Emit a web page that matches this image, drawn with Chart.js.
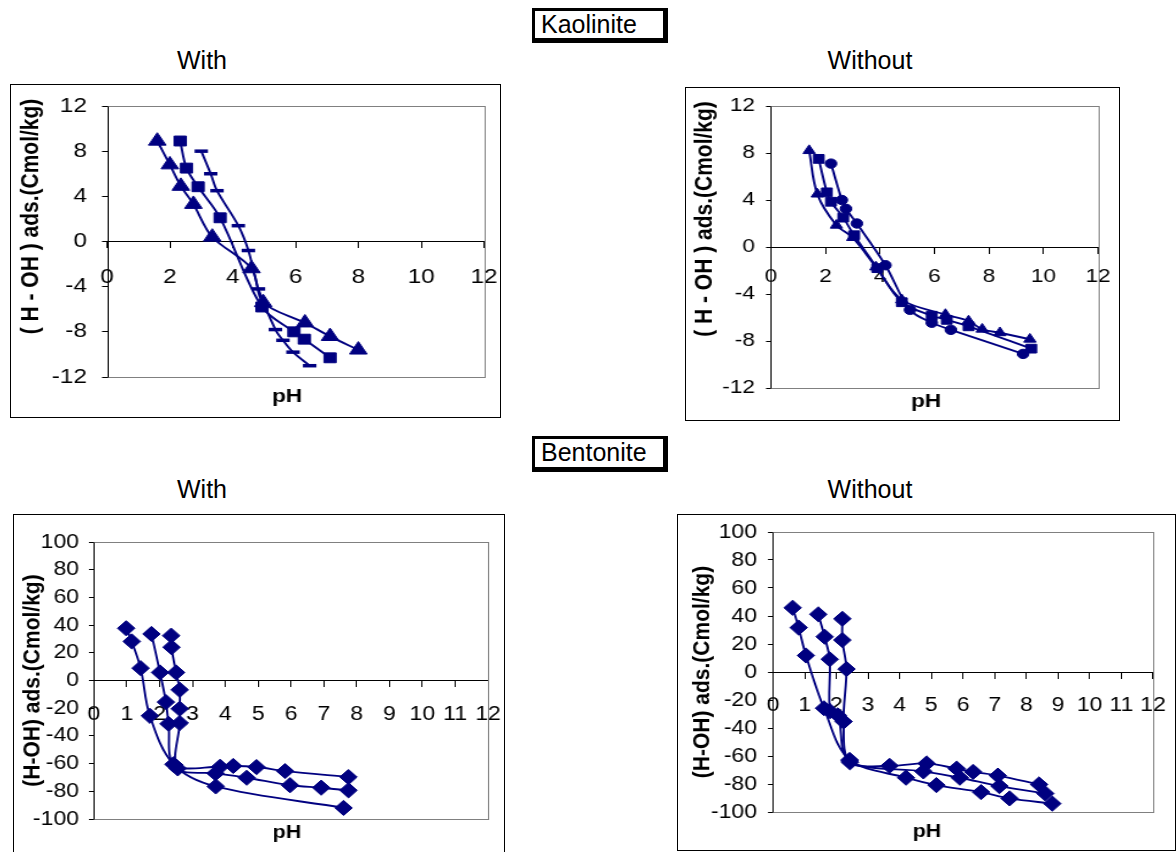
<!DOCTYPE html>
<html>
<head>
<meta charset="utf-8">
<script src="https://cdn.jsdelivr.net/npm/chart.js@4.4.0/dist/chart.umd.min.js"></script>
<style>
  body { margin: 0; width: 1176px; height: 852px; overflow: hidden; background: #fff; position: relative;
         font-family: "Liberation Sans", Arial, sans-serif; }
  canvas { position: absolute; transform-origin: 0 0; }
  .box { position: absolute; border: 1px solid #000; box-sizing: border-box; pointer-events: none; }
  .lbl { position: absolute; font-size: 25px; color: #000; white-space: nowrap; transform: translate(-50%, -50%); }
  .tag { position: absolute; border-style: solid; border-color: #000; border-width: 3px 5px 5px 3px;
         box-sizing: border-box; font-size: 25px; line-height: 27px; padding-left: 6px; background: #fff; }
</style>
</head>
<body>
<div class="tag" style="left:532px; top:8px; width:136px; height:35px;">Kaolinite</div>
<div class="lbl" style="left:202px; top:60px;">With</div>
<div class="lbl" style="left:870px; top:60px;">Without</div>
<div class="tag" style="left:532px; top:436px; width:136px; height:36px;">Bentonite</div>
<div class="lbl" style="left:202px; top:489px;">With</div>
<div class="lbl" style="left:870px; top:489px;">Without</div>

<script>
// tick labels
const kaoXTicks = [0, 2, 4, 6, 8, 10, 12];
const kaoYTicks = [-12, -8, -4, 0, 4, 8, 12];
const benXTicks = [0, 1, 2, 3, 4, 5, 6, 7, 8, 9, 10, 11, 12];
const benYTicks = [-100, -80, -60, -40, -20, 0, 20, 40, 60, 80, 100];

// Kaolinite - with
const kwTriX = [1.6, 2.0, 2.35, 2.75, 3.35, 4.6, 4.97, 6.3, 7.1, 8.0];
const kwTriY = [8.9, 6.8, 4.9, 3.3, 0.4, -2.4, -5.4, -7.2, -8.4, -9.6];
const kwSqX = [2.33, 2.53, 2.9, 3.6, 4.93, 5.95, 6.28, 7.1];
const kwSqY = [8.9, 6.5, 4.85, 2.1, -5.8, -8.0, -8.65, -10.3];
const kwDashX = [3.0, 3.3, 3.5, 4.18, 4.5, 4.82, 5.36, 5.6, 5.92, 6.45];
const kwDashY = [8.0, 6.0, 4.5, 1.4, -0.8, -4.2, -7.8, -8.75, -9.8, -11.0];

// Kaolinite - without
const knTriX = [1.4, 1.7, 2.4, 3.0, 3.85, 4.8, 6.4, 7.25, 7.75, 8.4, 9.5];
const knTriY = [8.2, 4.5, 1.85, 0.8, -1.7, -4.5, -5.75, -6.3, -7.0, -7.3, -7.85];
const knSqX = [1.75, 2.05, 2.2, 2.65, 3.05, 3.9, 4.8, 5.9, 6.45, 7.25, 9.55];
const knSqY = [7.5, 4.65, 3.85, 2.5, 1.0, -1.8, -4.7, -5.85, -6.2, -6.75, -8.65];
const knCirX = [2.2, 2.6, 2.75, 3.15, 4.2, 5.1, 5.9, 6.6, 9.25];
const knCirY = [7.1, 4.0, 3.25, 2.0, -1.55, -5.35, -6.45, -7.05, -9.1];

// Bentonite - with
const bwAX = [0.98, 1.15, 1.42, 1.7, 2.42, 3.71, 7.6];
const bwAY = [37.7, 28.2, 8.9, -25.5, -60.5, -76.5, -92];
const bwBX = [1.75, 2.01, 2.19, 2.27, 2.45, 3.84, 4.24, 4.95, 5.82, 7.75];
const bwBY = [33.6, 5.8, -15.6, -31.3, -61, -62.3, -61.7, -62.5, -65.4, -69.7];
const bwCX = [2.35, 2.36, 2.5, 2.61, 2.61, 2.61, 2.55, 3.7, 4.65, 5.97, 6.92, 7.75];
const bwCY = [32.4, 24, 5.8, -6.7, -20.4, -30.7, -63.5, -67, -70.2, -75.6, -77.4, -79.3];

// Bentonite - without
const bnAX = [0.62, 0.81, 1.04, 1.61, 2.42, 4.2, 5.16, 6.57, 7.47, 8.82];
const bnAY = [45.9, 31.7, 11.8, -25.9, -62.8, -75.5, -80.8, -85.8, -90.3, -94.0];
const bnBX = [1.43, 1.63, 1.79, 1.8, 2.05, 2.42, 4.75, 5.9, 7.15, 8.6];
const bnBY = [41.2, 25.2, 9.1, -28, -31, -63.5, -71, -75.5, -81.5, -86.8];
const bnCX = [2.19, 2.19, 2.32, 2.23, 2.43, 3.68, 4.85, 5.8, 6.32, 7.1, 8.4];
const bnCY = [38, 22.8, 2.1, -35.4, -64.5, -67, -65.3, -69, -71.3, -74, -80.3];

const NAVY = '#000080';
const FAM = "'Liberation Sans', Arial, sans-serif";

function serie(xs, ys, style, r, bw) {
  return {
    data: xs.map((x, i) => ({ x: x, y: ys[i] })),
    xAxisID: 'x', yAxisID: 'y',
    showLine: true, tension: 0.33, clip: false,
    borderColor: NAVY, borderWidth: 1.9,
    pointStyle: style, pointRadius: r,
    pointBackgroundColor: NAVY, pointBorderColor: NAVY, pointBorderWidth: bw || 1
  };
}

// plot frame, left axis line, title offsets
const frame = {
  id: 'frame',
  afterLayout(chart, args, opts) {
    const y = chart.scales.y, xb = chart.scales.xb;
    y.top += opts.dy; y.bottom += opts.dy;
    xb.left += opts.dx; xb.right += opts.dx;
  },
  beforeDatasetsDraw(chart) {
    const { ctx, chartArea: a } = chart;
    const l = Math.round(a.left) + 0.5, t = Math.round(a.top) + 0.5;
    const r = Math.round(a.right) + 0.5, b = Math.round(a.bottom) + 0.5;
    ctx.save();
    ctx.lineWidth = 1;
    ctx.strokeStyle = '#808080';
    ctx.strokeRect(l, t, r - l, b - t);
    ctx.strokeStyle = '#000';
    ctx.beginPath(); ctx.moveTo(l, t); ctx.lineTo(l, b); ctx.stroke();
    ctx.restore();
  }
};

// the source charts were stretched sideways, so each canvas is drawn narrower and scaled by s
function panel(p) {
  const s = p.s;
  const [oL, oT, oR, oB] = p.outer;
  const [pL, pT, pR, pB] = p.plot;
  const W = Math.round((oR - oL) / s), H = oB - oT;
  const cv = document.createElement('canvas');
  cv.width = W; cv.height = H;
  cv.style.cssText = `left:${oL}px;top:${oT}px;width:${W}px;height:${H}px;transform:scaleX(${s});`;
  document.body.appendChild(cv);
  const bx = document.createElement('div');
  bx.className = 'box';
  bx.style.cssText = `left:${oL}px;top:${oT}px;width:${oR - oL + 1}px;height:${oB - oT + 1}px;`;
  document.body.appendChild(bx);

  const tickFont = { family: FAM, size: p.tick };
  const yFont = { family: FAM, size: 21, weight: 'bold' };
  const pFont = { family: FAM, size: 18.6, weight: 'bold' };
  const ytl = 5 / s;

  new Chart(cv, {
    type: 'scatter',
    data: { datasets: p.datasets },
    plugins: [frame],
    options: {
      responsive: false, animation: false, devicePixelRatio: 1,
      layout: { padding: { left: 0, top: pT - oT, right: W - (pR - oL) / s, bottom: 0 } },
      plugins: { legend: { display: false }, tooltip: { enabled: false },
                 frame: { dx: (p.ph[0] - (pL + pR) / 2) / s, dy: p.titleDy } },
      scales: {
        x: {
          type: 'linear', position: { y: 0 },
          min: p.xt[0], max: p.xt[p.xt.length - 1],
          ticks: { stepSize: p.xt[1] - p.xt[0], autoSkip: false, maxRotation: 0, padding: p.xPad,
                   color: '#000', font: tickFont },
          grid: { drawOnChartArea: false, drawTicks: true, tickLength: 6, color: '#000' },
          border: { display: true, color: '#000', width: 1 },
          afterFit: sc => { sc.height = 0; sc.paddingLeft = 0; sc.paddingRight = 0; }
        },
        y: {
          type: 'linear', position: 'left',
          min: p.yt[0], max: p.yt[p.yt.length - 1],
          ticks: { stepSize: p.yt[1] - p.yt[0], autoSkip: false, padding: p.yGap / s - ytl,
                   color: '#000', font: tickFont },
          grid: { drawOnChartArea: false, drawTicks: true, tickLength: ytl, color: '#000' },
          border: { display: false },
          title: { display: true, text: p.yTitle, color: '#000', font: yFont,
                   padding: { top: p.yTitleX / s - 12.6, bottom: 0 } },
          afterFit: sc => { sc.width = (pL - oL) / s; sc.paddingTop = 0; sc.paddingBottom = 0; }
        },
        xb: {
          type: 'linear', position: 'bottom',
          ticks: { display: false },
          grid: { display: false, drawTicks: false },
          border: { display: false },
          title: { display: true, text: 'pH', color: '#000', font: pFont,
                   padding: { top: 0, bottom: H - 18.6 * 0.6 - (p.ph[1] - oT) } },
          afterFit: sc => { sc.height = oB - pB; sc.paddingLeft = 0; sc.paddingRight = 0; }
        }
      }
    }
  });
}

panel({
  s: 1.22, outer: [10, 84, 500, 417], plot: [107, 106, 484, 377],
  tick: 20, xPad: 18, yGap: 20, yTitleX: 21, titleDy: -25, ph: [287, 397],
  xt: kaoXTicks, yt: kaoYTicks, yTitle: '( H - OH ) ads.(Cmol/kg)',
  datasets: [
    serie(kwTriX, kwTriY, 'triangle', 8.3),
    serie(kwSqX, kwSqY, 'rect', 7),
    serie(kwDashX, kwDashY, 'line', 5.5, 3.5)
  ]
});

panel({
  s: 1.22, outer: [685, 87, 1119, 420], plot: [771, 106, 1098, 388],
  tick: 18.6, xPad: 13, yGap: 16, yTitleX: 20, titleDy: -28, ph: [926, 402],
  xt: kaoXTicks, yt: kaoYTicks, yTitle: '( H - OH ) ads.(Cmol/kg)',
  datasets: [
    serie(knTriX, knTriY, 'triangle', 5.8),
    serie(knSqX, knSqY, 'rect', 6.2),
    serie(knCirX, knCirY, 'circle', 4.7)
  ]
});

panel({
  s: 1.15, outer: [13, 514, 504, 858], plot: [94, 542, 488, 819],
  tick: 20, xPad: 16, yGap: 15, yTitleX: 19.5, titleDy: 0, ph: [287, 833],
  xt: benXTicks, yt: benYTicks, yTitle: '(H-OH) ads.(Cmol/kg)',
  datasets: [
    serie(bwAX, bwAY, 'rectRot', 7.6),
    serie(bwBX, bwBY, 'rectRot', 7.6),
    serie(bwCX, bwCY, 'rectRot', 7.6)
  ]
});

panel({
  s: 1.15, outer: [677, 514, 1175, 850], plot: [773, 532, 1153, 812],
  tick: 20, xPad: 15, yGap: 16, yTitleX: 26, titleDy: 0, ph: [927, 832],
  xt: benXTicks, yt: benYTicks, yTitle: '(H-OH) ads.(Cmol/kg)',
  datasets: [
    serie(bnAX, bnAY, 'rectRot', 7.6),
    serie(bnBX, bnBY, 'rectRot', 7.6),
    serie(bnCX, bnCY, 'rectRot', 7.6)
  ]
});
</script>
</body>
</html>
